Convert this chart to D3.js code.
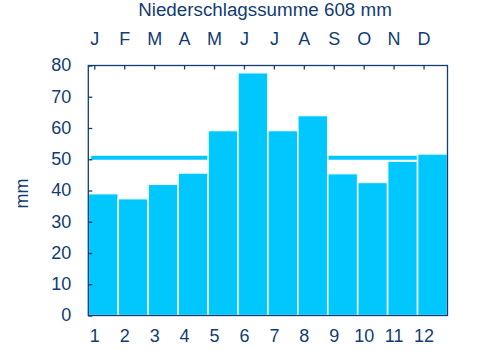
<!DOCTYPE html>
<html><head><meta charset="utf-8">
<script src="https://cdn.jsdelivr.net/npm/d3@7"></script>
<style>body{margin:0;background:#fff}svg{display:block}text{font-family:"Liberation Sans",Arial,sans-serif}</style>
</head><body><svg id="c" width="480" height="360"></svg>
<script>
const months = [1,2,3,4,5,6,7,8,9,10,11,12];
const monthLetters = ["J","F","M","A","M","J","J","A","S","O","N","D"];
const precip = [39.0,37.4,42.0,45.6,59.2,77.7,59.2,64.0,45.4,42.6,49.4,51.7];
const yTicks = [0,10,20,30,40,50,60,70,80];
const title = "Niederschlagssumme 608 mm";
const yLabel = "mm";
const meanValue = 50.5;

const navy = "#123c72", barColor = "#00c8ff";
const svg = d3.select("#c");
const x = d3.scaleLinear().domain([0.8, 12.8]).range([88.3, 447.5]);
const y = d3.scaleLinear().domain([0, 80]).range([315.5, 65.5]);

// mean line (behind bars)
svg.append("line").attr("x1", x(0.9)).attr("x2", x(12.8))
  .attr("y1", y(meanValue)).attr("y2", y(meanValue))
  .attr("stroke", barColor).attr("stroke-width", 4);

svg.append("g").selectAll("rect").data(precip).join("rect")
  .attr("x", (d,i) => x(months[i]-0.2))
  .attr("width", x(1)-x(0))
  .attr("y", d => y(d))
  .attr("height", d => y(0)-y(d))
  .attr("fill", barColor).attr("stroke", "#f0fbff").attr("stroke-width", 1.6);

// frame
svg.append("rect").attr("x", x(0.8)).attr("y", y(80))
  .attr("width", x(12.8)-x(0.8)).attr("height", y(0)-y(80))
  .attr("fill", "none").attr("stroke", navy).attr("stroke-width", 1.3);

// left axis (ticks inward)
const yAxis = d3.axisLeft(y).tickValues(yTicks).tickSize(-4).tickPadding(17).tickFormat(d3.format("d"));
const gy = svg.append("g").attr("transform", `translate(${x(0.8)},0)`).call(yAxis);
gy.select(".domain").remove();
gy.selectAll("line").attr("stroke", navy).attr("stroke-width", 1.3);
gy.selectAll("text").attr("fill", navy).attr("font-size", 18).attr("dy", "0.3em");

// top axis: month letters, ticks downward
const xTop = d3.axisTop(x).tickValues(months).tickSize(-4).tickPadding(21).tickFormat((d,i) => monthLetters[i]);
const gt = svg.append("g").attr("transform", `translate(0,${y(80)})`).call(xTop);
gt.select(".domain").remove();
gt.selectAll("line").attr("stroke", navy).attr("stroke-width", 1.3);
gt.selectAll("text").attr("fill", navy).attr("font-size", 18);

// bottom axis labels
const xBot = d3.axisBottom(x).tickValues(months).tickSize(0).tickPadding(14).tickFormat(d3.format("d"));
const gb = svg.append("g").attr("transform", `translate(0,${y(0)})`).call(xBot);
gb.select(".domain").remove();
gb.selectAll("line").remove();
gb.selectAll("text").attr("fill", navy).attr("font-size", 18);

svg.append("text").attr("x", 265).attr("y", 15.7).attr("text-anchor", "middle")
  .attr("fill", navy).attr("font-size", 18.8).text(title);

svg.append("text").attr("transform", "translate(28,193.5) rotate(-90)")
  .attr("text-anchor", "middle").attr("fill", navy).attr("font-size", 18).text(yLabel);
</script></body></html>
